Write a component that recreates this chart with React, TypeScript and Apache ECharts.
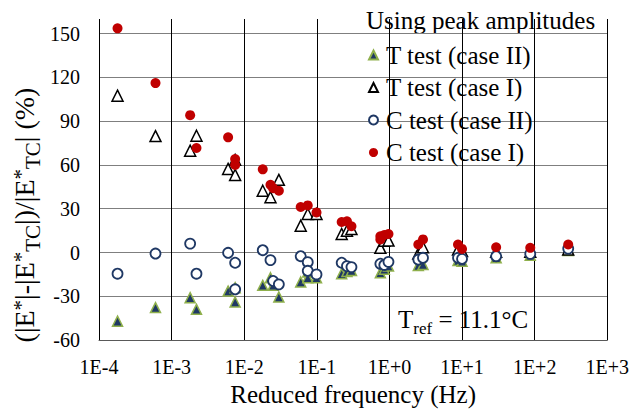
import React, { useEffect, useRef } from "react";
import * as echarts from "echarts";

const FONT = "'Times New Roman', 'Liberation Serif', serif";

const seriesNames = ["T test (case II)", "T test (case I)", "C test (case II)", "C test (case I)"];
const xTickLabels = ["1E-4", "1E-3", "1E-2", "1E-1", "1E+0", "1E+1", "1E+2", "1E+3"];
const yTicks = [-60, -30, 0, 30, 60, 90, 120, 150];

const tCase2Freq = [1.8e-4, 6.0e-4, 1.8e-3, 2.2e-3, 6.0e-3, 7.5e-3, 7.5e-3, 1.8e-2, 2.3e-2, 2.5e-2, 3.0e-2, 6.0e-2, 7.5e-2, 7.5e-2, 9.9e-2, 0.22, 0.26, 0.30, 0.75, 0.85, 0.97, 2.5, 2.9, 8.8, 10, 29.5, 87, 290];
const tCase2Val = [-47.0, -37.7, -30.9, -38.9, -26.4, -24.1, -33.9, -22.5, -17.3, -22.5, -30.5, -20.2, -13.4, -17.3, -17.3, -14.5, -13.0, -12.3, -13.9, -11.5, -9.3, -8.9, -8.2, -5.5, -6.0, -3.6, -1.9, 1.4];

const tCase1Freq = [1.8e-4, 6.0e-4, 1.8e-3, 2.2e-3, 6.0e-3, 7.5e-3, 7.5e-3, 1.8e-2, 2.3e-2, 3.0e-2, 6.0e-2, 7.5e-2, 9.9e-2, 0.22, 0.26, 0.30, 0.75, 0.85, 0.97, 2.5, 2.9, 8.8, 10, 29.5, 87, 290];
const tCase1Val = [107.5, 79.8, 69.8, 80.0, 57.3, 63.5, 53.2, 42.3, 37.9, 49.8, 18.4, 26.4, 26.4, 12.7, 15.0, 16.1, 3.2, 8.0, 8.2, -0.7, 3.6, 2.0, 1.0, 0.5, 0.5, 2.0];

const cCase2Freq = [1.8e-4, 6.0e-4, 1.8e-3, 2.2e-3, 6.0e-3, 7.5e-3, 7.5e-3, 1.8e-2, 2.3e-2, 2.5e-2, 3.0e-2, 6.0e-2, 7.5e-2, 7.5e-2, 9.9e-2, 0.22, 0.26, 0.30, 0.75, 0.85, 0.97, 2.5, 2.9, 8.8, 10, 29.5, 87, 290];
const cCase2Val = [-14.5, -0.7, 6.1, -14.5, -0.2, -7.0, -25.2, 1.6, -5.2, -19.5, -21.8, -2.5, -6.6, -12.5, -15.0, -7.0, -9.3, -10.0, -7.7, -8.5, -6.4, -4.8, -3.6, -3.6, -4.3, -2.5, -0.9, 2.7];

const cCase1Freq = [1.8e-4, 6.0e-4, 1.8e-3, 2.2e-3, 6.0e-3, 7.5e-3, 7.5e-3, 1.8e-2, 2.3e-2, 2.5e-2, 3.0e-2, 6.0e-2, 7.5e-2, 9.9e-2, 0.22, 0.26, 0.30, 0.75, 0.75, 0.85, 0.97, 2.5, 2.9, 8.8, 10, 29.5, 87, 290];
const cCase1Val = [153.6, 116.1, 94.1, 71.6, 78.9, 64.1, 60.0, 57.0, 46.4, 44.1, 42.3, 31.2, 32.3, 27.5, 20.9, 21.4, 18.0, 11.1, 9.0, 12.0, 12.7, 5.5, 9.0, 5.5, 2.5, 3.6, 3.2, 5.5];

const pairs = (xs: number[], ys: number[]) => xs.map((x, i) => [x, ys[i]]);

export default function App() {
  const ref = useRef<HTMLDivElement>(null);
  useEffect(() => {
    document.body.style.margin = "0";
    const chart = echarts.init(ref.current!, null, { renderer: "svg" });
    chart.setOption({
      animation: false,
      backgroundColor: "#ffffff",
      grid: { left: 99, right: 22, top: 19, bottom: 71, containLabel: false },
      xAxis: {
        type: "log",
        logBase: 10,
        min: 1e-4,
        max: 1e3,
        axisLine: { show: true, onZero: false, lineStyle: { color: "#595959", width: 1 } },
        axisTick: { show: false },
        axisLabel: {
          formatter: (v: number) => xTickLabels[Math.round(Math.log10(v)) + 4] ?? "",
          fontFamily: FONT,
          fontSize: 20,
          color: "#000",
          margin: 17,
        },
        splitLine: { show: true, lineStyle: { color: "#000", width: 1 } },
        name: "Reduced frequency (Hz)",
        nameLocation: "middle",
        nameGap: 38,
        nameTextStyle: { fontFamily: FONT, fontSize: 25, color: "#000" },
      },
      yAxis: {
        type: "value",
        min: yTicks[0],
        max: 160,
        interval: 30,
        axisLine: { show: false },
        axisTick: { show: false },
        axisLabel: {
          formatter: (v: number) => (yTicks.includes(v) ? String(v) : ""),
          fontFamily: FONT,
          fontSize: 20,
          color: "#000",
          margin: 19,
        },
        splitLine: { show: true, showMaxLine: false, lineStyle: { color: "#7f7f7f", width: 1.2 } },
      },
      legend: {
        orient: "vertical",
        left: 368,
        top: 42.5,
        padding: 0,
        itemWidth: 9,
        itemHeight: 9,
        itemGap: 7.5,
        selectedMode: false,
        data: seriesNames,
        textStyle: { fontFamily: FONT, fontSize: 25, color: "#000", lineHeight: 25, padding: [0, 0, 0, 3] },
      },
      graphic: [
        {
          type: "text",
          x: 366,
          y: 20,
          style: {
            text: "Using peak amplitudes",
            fontFamily: FONT,
            fontSize: 25,
            fill: "#000",
            align: "left",
            verticalAlign: "middle",
          },
        },
        {
          type: "text",
          x: 398,
          y: 307,
          style: {
            text: "{a|T}{b|ref}{a| = 11.1°C}",
            fill: "#000",
            align: "left",
            verticalAlign: "top",
            rich: {
              a: { fontFamily: FONT, fontSize: 25, lineHeight: 25, verticalAlign: "top", fill: "#000" },
              b: { fontFamily: FONT, fontSize: 17, lineHeight: 17, verticalAlign: "top", padding: [12.5, 0, 0, 0], fill: "#000" },
            },
          },
        },
        {
          type: "text",
          x: 24.6,
          y: 215,
          rotation: Math.PI / 2,
          style: {
            text: "{m|(|E}{s|*}{m||-|E}{s|*}{t|TC}{m||)/|E}{s|*}{t|TC}{m|| (%)}",
            fill: "#000",
            align: "center",
            verticalAlign: "middle",
            rich: {
              m: { fontFamily: FONT, fontSize: 28, lineHeight: 28, verticalAlign: "top", fill: "#000" },
              s: { fontFamily: FONT, fontSize: 21, lineHeight: 21, verticalAlign: "top", fill: "#000" },
              t: { fontFamily: FONT, fontSize: 21, lineHeight: 21, verticalAlign: "top", padding: [11.8, 0, 0, 0], fill: "#000" },
            },
          },
        },
      ],
      series: [
        {
          name: seriesNames[0],
          type: "scatter",
          symbol: "triangle",
          symbolSize: 10,
          itemStyle: { color: "#1F3864", borderColor: "#8FB04C", borderWidth: 1.5, opacity: 1 },
          data: pairs(tCase2Freq, tCase2Val),
        },
        {
          name: seriesNames[1],
          type: "scatter",
          symbol: "triangle",
          symbolSize: 11,
          itemStyle: { color: "#ffffff", borderColor: "#000000", borderWidth: 1.5, opacity: 1 },
          data: pairs(tCase1Freq, tCase1Val),
        },
        {
          name: seriesNames[2],
          type: "scatter",
          symbol: "circle",
          symbolSize: 10,
          itemStyle: { color: "#ffffff", borderColor: "#1F3864", borderWidth: 1.8, opacity: 1 },
          data: pairs(cCase2Freq, cCase2Val),
        },
        {
          name: seriesNames[3],
          type: "scatter",
          symbol: "circle",
          symbolSize: 10,
          itemStyle: { color: "#C00000", opacity: 1 },
          data: pairs(cCase1Freq, cCase1Val),
        },
      ],
    });
    return () => chart.dispose();
  }, []);
  return <div ref={ref} style={{ width: 632, height: 412 }} />;
}
